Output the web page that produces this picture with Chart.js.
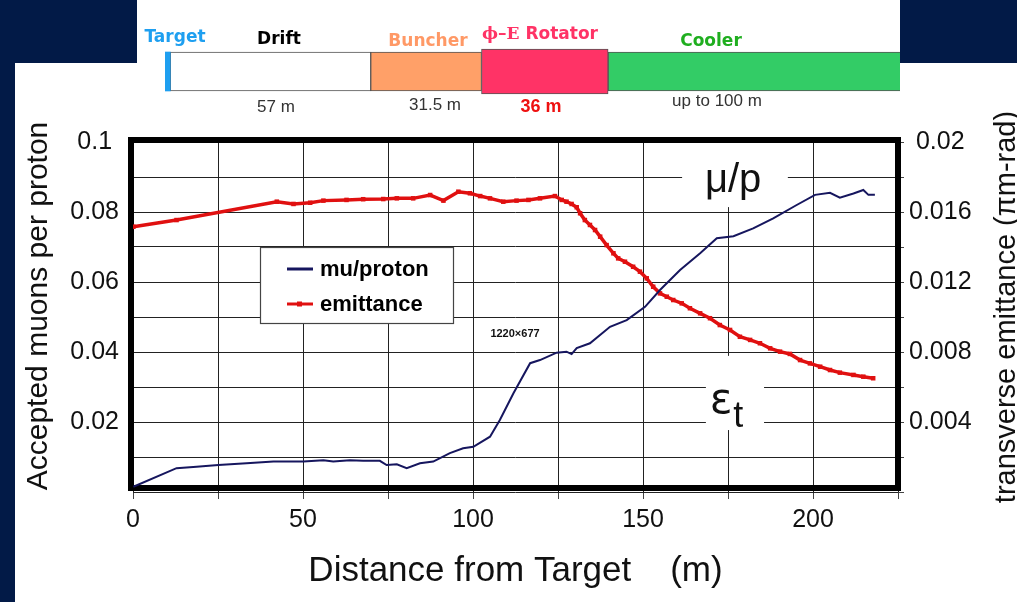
<!DOCTYPE html>
<html>
<head>
<meta charset="utf-8">
<title>Muon front end</title>
<script src="https://cdn.jsdelivr.net/npm/chart.js@4.4.1/dist/chart.umd.min.js"></script>
<style>
  html, body { margin: 0; padding: 0; }
  body { width: 1017px; height: 602px; background: #021a47; position: relative; overflow: hidden; }
  .sheet { position: absolute; background: #fff; }
  #stripTop { left: 137px; top: 0; width: 763px; height: 63px; }
  #stripMain { left: 15px; top: 63px; width: 1002px; height: 539px; }
  canvas { position: absolute; left: 0; top: 0; }
</style>
</head>
<body>
<div class="sheet" id="stripTop"></div>
<div class="sheet" id="stripMain"></div>
<canvas id="plot" width="1017" height="602"></canvas>
<canvas id="layout" width="1017" height="120"></canvas>

<script>
// Front-end layout (lengths in m)
const stageNames = ['Target', 'Drift', 'Buncher', 'ϕ–E Rotator', 'Cooler'];
const stageLengths = [1.5, 57, 31.5, 36, 100];
const stageLengthLabels = ['', '57 m', '31.5 m', '36 m', 'up to 100 m'];

// Accepted muons per proton vs distance from target
const muDistance = [0.1, 12.8, 18.7, 25.1, 33.4, 41.3, 50.1, 56.0, 58.9, 63.8, 67.7, 72.6, 74.6, 77.6, 80.5,
  84.4, 88.3, 93.2, 97.1, 100.1, 105.0, 107.9, 111.9, 116.8, 119.7, 124.6, 127.5, 129.0, 130.5, 134.4,
  140.3, 145.2, 150.6, 155.0, 160.9, 166.8, 171.7, 176.6, 182.4, 188.3, 195.2, 200.6, 205.0, 207.9,
  211.9, 214.8, 216.3, 218.2];
const muPerProton = [0.0015, 0.0068, 0.0072, 0.0077, 0.0082, 0.0087, 0.0087, 0.0091, 0.0087, 0.0091, 0.0089,
  0.0089, 0.0077, 0.0079, 0.0068, 0.0082, 0.0087, 0.0111, 0.0125, 0.0129, 0.0158, 0.0206, 0.0282, 0.0368,
  0.0377, 0.0398, 0.0401, 0.0394, 0.0411, 0.0425, 0.0472, 0.0491, 0.0529, 0.0577, 0.0634, 0.0682, 0.0725,
  0.0731, 0.0753, 0.0782, 0.0820, 0.0849, 0.0855, 0.0841, 0.0853, 0.0863, 0.0849, 0.0849];

// Transverse emittance (pi m-rad) vs distance from target
const emitDistance = [0.1, 12.8, 42.3, 47.2, 52.1, 56.0, 62.8, 67.7, 73.6, 77.6, 82.4, 87.4, 91.3, 95.7,
  99.1, 102.1, 105.0, 108.9, 112.8, 116.3, 119.7, 124.1, 126.1, 127.5, 129.0, 130.5, 131.5, 132.9, 134.4,
  135.9, 137.4, 139.3, 141.3, 142.7, 144.7, 147.1, 149.1, 151.1, 153.0, 155.0, 157.0, 158.9, 161.4, 163.8,
  166.8, 169.7, 172.6, 175.6, 178.5, 181.5, 184.4, 187.4, 190.3, 193.2, 196.2, 199.1, 202.1, 205.0, 207.9,
  211.9, 214.8, 217.7];
const emittance = [0.01516, 0.01554, 0.01659, 0.01646, 0.01653, 0.01665, 0.01669, 0.01673, 0.01674, 0.01678,
  0.01678, 0.01697, 0.01665, 0.01716, 0.01707, 0.01691, 0.01678, 0.01659, 0.01665, 0.01669, 0.01678,
  0.01691, 0.01669, 0.01659, 0.01646, 0.01627, 0.01593, 0.01554, 0.01526, 0.01497, 0.01459, 0.01411,
  0.01364, 0.01335, 0.01316, 0.01287, 0.01259, 0.01221, 0.01173, 0.01135, 0.01116, 0.01097, 0.01078,
  0.0105, 0.01021, 0.00993, 0.00954, 0.00926, 0.00887, 0.00869, 0.0085, 0.00821, 0.00802, 0.00789,
  0.00754, 0.00735, 0.00716, 0.00697, 0.00682, 0.00669, 0.00659, 0.0065];

// Tick labels
const xTickLabels = ['0', '50', '100', '150', '200'];
const muTickLabels = ['0.02', '0.04', '0.06', '0.08', '0.1'];
const emitTickLabels = ['0.004', '0.008', '0.012', '0.016', '0.02'];

const SANS = '"Liberation Sans", Arial, sans-serif';
Chart.defaults.font.family = SANS;
Chart.defaults.color = '#111';

// ---------- header strip: stacked bar of the stages ----------
const stageColors = ['#1e9ff0', '#ffffff', '#ffa068', '#ff3366', '#33cc66'];
const stageThickness = [39, 39, 39, 45, 39];
// caption spots: [centre x, baseline y]
const nameSpots = [[175, 42], [279, 44], [428, 46], [540, 39], [711, 46]];
const nameColors = ['#1e9ff0', '#000000', '#ff9966', '#ff3366', '#1fae1f'];
const lengthSpots = [null, [276, 112], [435, 110], [541, 112], [717, 106]];

const headerCaptions = {
  id: 'headerCaptions',
  afterDraw(chart) {
    const ctx = chart.ctx;
    ctx.save();
    ctx.textBaseline = 'alphabetic';
    stageNames.forEach((name, i) => {
      const [cx, by] = nameSpots[i];
      ctx.fillStyle = nameColors[i];
      const sansBold = 'bold 17px "DejaVu Sans", sans-serif';
      if (name.startsWith('ϕ')) {
        // phi-E part is set in a serif face
        const cut = name.indexOf(' ');
        const head = name.slice(0, cut), tail = name.slice(cut);
        ctx.font = 'bold 17px "DejaVu Serif", "Liberation Serif", serif';
        const wHead = ctx.measureText(head).width;
        ctx.font = sansBold;
        const wTail = ctx.measureText(tail).width;
        let x = cx - (wHead + wTail) / 2;
        ctx.textAlign = 'left';
        ctx.font = 'bold 17px "DejaVu Serif", "Liberation Serif", serif';
        ctx.fillText(head, x, by);
        ctx.font = sansBold;
        ctx.fillText(tail, x + wHead, by);
      } else {
        ctx.textAlign = 'center';
        ctx.font = sansBold;
        ctx.fillText(name, cx, by);
      }
      const spot = lengthSpots[i];
      if (spot && stageLengthLabels[i]) {
        ctx.textAlign = 'center';
        if (name.startsWith('ϕ')) {
          ctx.font = 'bold 18px ' + SANS;
          ctx.fillStyle = '#ee1111';
        } else {
          ctx.font = '17px ' + SANS;
          ctx.fillStyle = '#333';
        }
        ctx.fillText(stageLengthLabels[i], spot[0], spot[1]);
      }
    });
    ctx.restore();
  }
};

new Chart(document.getElementById('layout'), {
  type: 'bar',
  data: {
    labels: [''],
    datasets: stageNames.map((name, i) => ({
      label: name,
      data: [stageLengths[i]],
      backgroundColor: stageColors[i],
      borderColor: i === 0 ? stageColors[i] : '#555',
      borderWidth: i === 0 ? 0 : 1,
      borderSkipped: false,
      barThickness: stageThickness[i],
      clip: 0
    }))
  },
  options: {
    indexAxis: 'y',
    responsive: false,
    animation: false,
    layout: { padding: { left: 165, right: 117, top: 40, bottom: 17 } },
    scales: {
      x: { display: false, stacked: true, min: 0, max: 209 },
      y: { display: false, stacked: true }
    },
    plugins: { legend: { display: false }, tooltip: { enabled: false } }
  },
  plugins: [headerCaptions]
});

// ---------- main plot ----------
const muColor = '#16165e';
const emitColor = '#e01010';

// white patches (in data units of x / left axis) behind the curve captions
const captionBoxes = [
  { x0: 161.5, x1: 192.6, y0: 0.0814, y1: 0.1 },
  { x0: 168.5, x1: 185.6, y0: 0.0177, y1: 0.0389 }
];

const framePlugin = {
  id: 'frame',
  beforeDatasetsDraw(chart) {
    const { ctx, chartArea: a, scales } = chart;
    ctx.save();
    ctx.fillStyle = '#fff';
    captionBoxes.forEach(b => {
      const x0 = scales.x.getPixelForValue(b.x0), x1 = scales.x.getPixelForValue(b.x1);
      const y0 = scales.y.getPixelForValue(b.y1), y1 = scales.y.getPixelForValue(b.y0);
      ctx.fillRect(x0, y0, x1 - x0, y1 - y0);
    });
    ctx.lineWidth = 6;
    ctx.strokeStyle = '#000';
    ctx.strokeRect(a.left - 2, a.top - 2, a.width + 2, a.height - 2);
    ctx.restore();
  },
  afterDatasetsDraw(chart) {
    const { ctx, chartArea: a, scales } = chart;
    ctx.save();

    // legend box inside the plot
    const lx = a.left + 127, ly = a.top + 105, lw = 193, lh = 76;
    ctx.fillStyle = '#fff';
    ctx.fillRect(lx, ly, lw, lh);
    ctx.lineWidth = 1.2;
    ctx.strokeStyle = '#444';
    ctx.strokeRect(lx + 0.5, ly + 0.5, lw, lh);
    ctx.font = 'bold 22px ' + SANS;
    ctx.textBaseline = 'middle';
    ctx.textAlign = 'left';
    chart.data.datasets.forEach((ds, i) => {
      const yy = ly + 22 + i * 35;
      ctx.strokeStyle = ds.borderColor;
      ctx.lineWidth = 3;
      ctx.beginPath();
      ctx.moveTo(lx + 27, yy);
      ctx.lineTo(lx + 53, yy);
      ctx.stroke();
      if (ds.pointRadius) {
        ctx.fillStyle = ds.borderColor;
        ctx.fillRect(lx + 37, yy - 2.5, 5, 5);
      }
      ctx.fillStyle = '#000';
      ctx.fillText(ds.label, lx + 60, yy + 1);
    });

    // curve captions
    ctx.fillStyle = '#111';
    ctx.textBaseline = 'alphabetic';
    ctx.textAlign = 'center';
    ctx.font = '40px ' + SANS;
    ctx.fillText('μ/p', scales.x.getPixelForValue(176.5), scales.y.getPixelForValue(0.0857));
    ctx.textAlign = 'left';
    const ex = scales.x.getPixelForValue(169.6);
    ctx.font = '42px "DejaVu Sans", sans-serif';
    ctx.fillText('ε', ex, scales.y.getPixelForValue(0.0225));
    const ew = ctx.measureText('ε').width;
    ctx.font = '36px ' + SANS;
    ctx.fillText('t', ex + ew + 1, scales.y.getPixelForValue(0.0186));

    ctx.font = 'bold 11px ' + SANS;
    ctx.textAlign = 'center';
    ctx.textBaseline = 'middle';
    ctx.fillText('1220×677', 515, 334);
    ctx.restore();
  },
  afterDraw(chart) {
    const ctx = chart.ctx;
    ctx.save();
    ctx.fillStyle = '#111';
    ctx.textAlign = 'center';
    ctx.textBaseline = 'alphabetic';
    // both side titles read bottom to top
    ctx.translate(47, 306);
    ctx.rotate(-Math.PI / 2);
    ctx.font = '30px ' + SANS;
    ctx.fillText('Accepted muons per proton', 0, 0);
    ctx.setTransform(1, 0, 0, 1, 0, 0);
    ctx.translate(1015, 307);
    ctx.rotate(-Math.PI / 2);
    ctx.font = '29px ' + SANS;
    ctx.fillText('transverse emittance (πm-rad)', 0, 0);
    ctx.restore();
  }
};

new Chart(document.getElementById('plot'), {
  type: 'line',
  data: {
    datasets: [
      {
        label: 'mu/proton',
        data: muDistance.map((d, i) => ({ x: d, y: muPerProton[i] })),
        yAxisID: 'y',
        borderColor: muColor,
        borderWidth: 2,
        pointRadius: 0,
        tension: 0
      },
      {
        label: 'emittance',
        data: emitDistance.map((d, i) => ({ x: d, y: emittance[i] })),
        yAxisID: 'y2',
        borderColor: emitColor,
        backgroundColor: emitColor,
        borderWidth: 3.5,
        pointRadius: 3.2,
        pointStyle: 'rect',
        pointBorderWidth: 0,
        tension: 0
      }
    ]
  },
  options: {
    responsive: false,
    animation: false,
    layout: { padding: { top: 142, left: 0, right: 0, bottom: 0 } },
    scales: {
      x: {
        type: 'linear',
        min: 0,
        max: 225,
        afterFit: s => { s.height = 110; },
        border: { display: false },
        grid: { color: '#222', lineWidth: 1, drawTicks: true, tickLength: 7, tickColor: '#444' },
        ticks: {
          stepSize: 25,
          autoSkip: false,
          maxRotation: 0,
          padding: 6,
          font: { size: 25 },
          callback: v => (v % 50 === 0 ? xTickLabels[v / 50] : '')
        },
        title: {
          display: true,
          text: 'Distance from Target    (m)',
          font: { size: 35 },
          padding: { top: 0, bottom: 10 }
        }
      },
      y: {
        position: 'left',
        min: 0,
        max: 0.1,
        afterFit: s => { s.width = 133; },
        border: { display: false },
        grid: { color: '#222', lineWidth: 1, drawTicks: false },
        ticks: {
          stepSize: 0.01,
          crossAlign: 'center',
          padding: 14,
          font: { size: 25 },
          callback: v => {
            const k = Math.round(v * 100);
            return k > 0 && k % 2 === 0 ? muTickLabels[k / 2 - 1] : '';
          }
        }
      },
      y2: {
        position: 'right',
        min: 0,
        max: 0.02,
        afterFit: s => { s.width = 119; },
        border: { display: false },
        grid: { drawOnChartArea: false, drawTicks: true, tickLength: 6, tickColor: '#444' },
        ticks: {
          stepSize: 0.002,
          crossAlign: 'center',
          padding: 5,
          font: { size: 25 },
          callback: v => {
            const k = Math.round(v * 1000);
            return k > 0 && k % 4 === 0 ? emitTickLabels[k / 4 - 1] : '';
          }
        }
      }
    },
    plugins: { legend: { display: false }, tooltip: { enabled: false } }
  },
  plugins: [framePlugin]
});
</script>
</body>
</html>
